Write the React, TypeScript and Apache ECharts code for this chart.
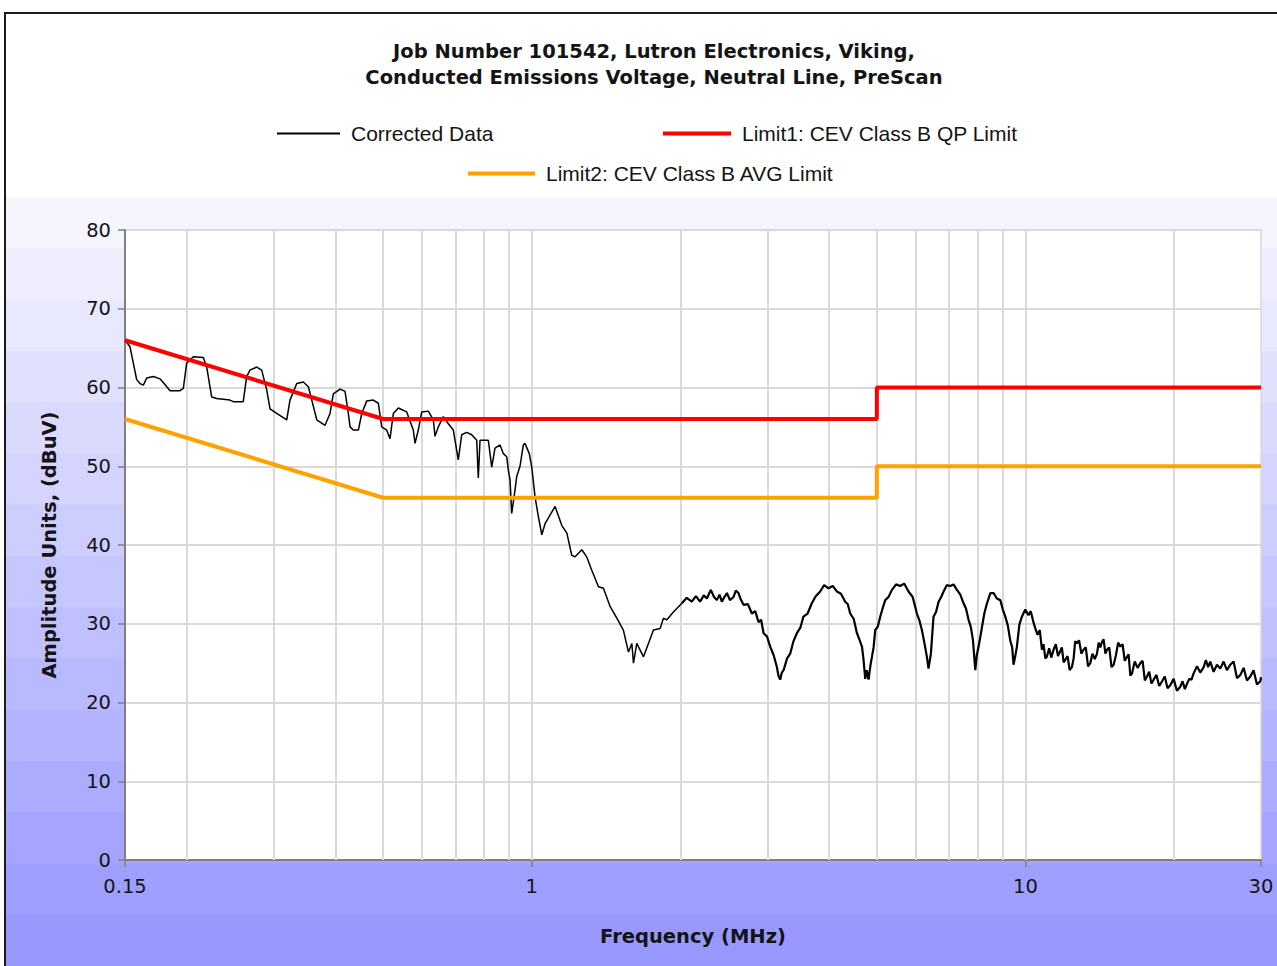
import React, { useEffect, useRef } from "react";
import * as echarts from "echarts";

// ---- Text ----
const titleLines = [
  "Job Number 101542, Lutron Electronics, Viking,",
  "Conducted Emissions Voltage, Neutral Line, PreScan",
];
const xAxisName = "Frequency (MHz)";
const yAxisName = "Amplitude Units, (dBuV)";
const seriesNames = [
  "Corrected Data",
  "Limit1: CEV Class B QP Limit",
  "Limit2: CEV Class B AVG Limit",
];

// ---- Axes ----
const freqMin = 0.15;
const freqMax = 30;
const levelMin = 0;
const levelMax = 80;
const levelStep = 10;
// vertical grid lines of the log frequency axis
const gridFrequencies = [0.2, 0.3, 0.4, 0.5, 0.6, 0.7, 0.8, 0.9, 1, 2, 3, 4, 5, 6, 7, 8, 9, 10, 20];

// ---- Limits [MHz, dBuV] ----
const qpLimit: [number, number][] = [[0.15, 66], [0.5, 56], [5, 56], [5, 60], [30, 60]];
const avgLimit: [number, number][] = [[0.15, 56], [0.5, 46], [5, 46], [5, 50], [30, 50]];

// ---- Corrected scan data [MHz, dBuV] ----
const scanLow: [number, number][] = [
  [0.150, 66.0], [0.1535, 65.2], [0.1584, 61.0], [0.1609, 60.5], [0.1634, 60.3], [0.1660, 61.2],
  [0.1712, 61.4], [0.1766, 61.1], [0.1823, 60.1], [0.1851, 59.6], [0.1939, 59.6], [0.1969, 59.9],
  [0.2000, 63.1], [0.2063, 63.9], [0.2161, 63.8], [0.2196, 62.6], [0.2247, 58.8], [0.2300, 58.6],
  [0.2447, 58.4], [0.2486, 58.2], [0.2604, 58.2], [0.2646, 61.4], [0.2687, 62.2], [0.2773, 62.6],
  [0.2838, 62.2], [0.2905, 59.7], [0.2950, 57.3], [0.3044, 56.7], [0.3189, 55.9], [0.3238, 58.4],
  [0.3342, 60.5], [0.3446, 60.7], [0.3528, 60.1], [0.3611, 57.6], [0.3669, 55.9], [0.3813, 55.2],
  [0.3903, 56.7], [0.3963, 59.2], [0.4090, 59.8], [0.4186, 59.5], [0.4251, 56.7], [0.4285, 55.0],
  [0.4351, 54.6], [0.4455, 54.6], [0.4525, 56.7], [0.4632, 58.3], [0.4775, 58.4], [0.4889, 58.0],
  [0.4967, 55.0], [0.5084, 54.6], [0.5163, 53.5], [0.5243, 56.7], [0.5367, 57.4], [0.5581, 56.9],
  [0.5755, 54.6], [0.5801, 52.9], [0.5891, 54.6], [0.5986, 56.9], [0.6172, 57.0], [0.6319, 55.9],
  [0.6368, 53.8], [0.6467, 55.0], [0.6619, 56.3], [0.6776, 55.4], [0.6936, 54.6], [0.7099, 50.8],
  [0.7213, 54.0], [0.7383, 54.3], [0.7557, 54.0], [0.7736, 53.3], [0.7793, 48.5], [0.7856, 53.3],
  [0.8166, 53.3], [0.8297, 49.9], [0.8424, 52.3], [0.8625, 52.7], [0.8759, 51.6], [0.8899, 51.2],
  [0.8965, 49.5], [0.9035, 48.3], [0.9107, 44.0], [0.9249, 47.0], [0.9322, 48.7], [0.9467, 50.0],
  [0.9614, 52.7], [0.9689, 52.9], [0.9886, 51.6], [1.000, 49.9], [1.0155, 46.1], [1.0313, 43.6],
  [1.048, 41.3], [1.064, 42.7], [1.115, 44.9], [1.150, 42.5], [1.178, 41.5], [1.205, 38.7],
  [1.224, 38.5], [1.263, 39.4], [1.292, 38.5], [1.323, 36.8], [1.365, 34.7], [1.397, 34.5],
  [1.441, 32.2], [1.487, 30.7], [1.533, 29.2], [1.570, 26.4], [1.595, 27.5], [1.607, 25.0],
  [1.632, 27.5], [1.684, 25.8], [1.764, 29.2], [1.820, 29.4], [1.848, 30.7], [1.878, 30.5],
  [1.936, 31.5], [2.014, 32.6],
];

const scanMid: [number, number][] = [
  [2.014, 32.6], [2.06, 33.3], [2.110, 32.8], [2.15, 33.5], [2.193, 32.8], [2.23, 33.6],
  [2.263, 33.2], [2.305, 34.3], [2.34, 33.4], [2.371, 33.0], [2.40, 33.7], [2.427, 32.8],
  [2.456, 33.4], [2.485, 33.9], [2.52, 33.0], [2.563, 33.4], [2.59, 34.2], [2.623, 33.9],
  [2.65, 33.1], [2.685, 32.4], [2.74, 32.5], [2.792, 31.3], [2.836, 31.6], [2.880, 30.2],
  [2.915, 30.5], [2.948, 28.8], [2.995, 28.4], [3.041, 27.1], [3.09, 26.0], [3.137, 24.5],
  [3.16, 23.4], [3.186, 22.9], [3.21, 23.8], [3.236, 24.1], [3.29, 25.6], [3.338, 26.2],
  [3.39, 27.8], [3.444, 28.8], [3.50, 29.5], [3.550, 30.9], [3.62, 31.3], [3.692, 32.6],
  [3.76, 33.5], [3.839, 34.1], [3.91, 34.9], [3.991, 34.5], [4.07, 34.8], [4.149, 34.1],
  [4.23, 33.8], [4.314, 32.8], [4.365, 32.5], [4.416, 31.3], [4.49, 30.6], [4.557, 28.8],
  [4.61, 28.0], [4.665, 27.1], [4.700, 25.4], [4.737, 23.0], [4.77, 24.1], [4.811, 22.9],
  [4.85, 24.6], [4.887, 25.8], [4.925, 27.0], [4.963, 29.2], [5.02, 29.6], [5.080, 30.9],
  [5.14, 32.0], [5.199, 33.0], [5.28, 33.4], [5.365, 34.3], [5.47, 35.0], [5.576, 34.8],
  [5.68, 35.1], [5.796, 34.1], [5.91, 33.4], [6.027, 31.3], [6.10, 30.4], [6.169, 29.2],
  [6.24, 27.6], [6.315, 25.8], [6.363, 24.3], [6.434, 26.2], [6.513, 30.9], [6.59, 31.5],
  [6.668, 32.8], [6.75, 33.4], [6.826, 34.1], [6.93, 34.9], [7.042, 34.8], [7.15, 35.0],
  [7.265, 34.3], [7.38, 33.7], [7.493, 32.6], [7.58, 31.9], [7.670, 30.5], [7.75, 29.6],
  [7.829, 27.9], [7.914, 24.1], [7.97, 26.0], [8.037, 27.1], [8.10, 28.3], [8.166, 29.6],
  [8.26, 31.4], [8.359, 32.6], [8.49, 33.9], [8.619, 33.9], [8.75, 33.2], [8.893, 33.0],
  [9.00, 31.8], [9.103, 30.9], [9.21, 29.8], [9.314, 27.9], [9.40, 27.0], [9.459, 24.8],
  [9.53, 25.8], [9.610, 27.1], [9.72, 29.9], [9.836, 30.9], [9.99, 31.8],
];

const scanHigh: [number, number][] = [
  [10.14, 31.1], [10.25, 31.6], [10.36, 30.4], [10.47, 29.4], [10.58, 28.6], [10.69, 29.2],
  [10.80, 26.7], [10.88, 27.4], [10.97, 25.6], [11.05, 25.8], [11.17, 26.9], [11.28, 25.7],
  [11.40, 26.7], [11.52, 27.4], [11.64, 25.9], [11.76, 26.5], [11.85, 27.0], [11.95, 25.1],
  [12.04, 25.4], [12.17, 25.9], [12.29, 24.1], [12.42, 24.5], [12.52, 25.6], [12.61, 27.8],
  [12.71, 27.5], [12.84, 27.9], [12.98, 26.2], [13.11, 26.7], [13.25, 27.0], [13.39, 24.6],
  [13.53, 25.0], [13.67, 26.2], [13.82, 25.5], [13.96, 26.2], [14.07, 27.6], [14.18, 27.0],
  [14.29, 27.7], [14.40, 28.0], [14.52, 26.2], [14.63, 26.7], [14.78, 27.0], [14.94, 24.5],
  [15.09, 24.8], [15.25, 26.0], [15.41, 27.6], [15.57, 27.1], [15.73, 27.4], [15.89, 25.3],
  [16.06, 25.8], [16.18, 26.1], [16.31, 23.4], [16.44, 23.7], [16.65, 25.2], [16.87, 24.4],
  [17.09, 25.0], [17.27, 25.3], [17.45, 22.8], [17.63, 23.3], [17.81, 23.9], [18.00, 22.4],
  [18.18, 22.9], [18.42, 23.5], [18.66, 22.1], [18.91, 22.7], [19.15, 23.3], [19.40, 21.8],
  [19.65, 22.2], [19.96, 23.0], [20.27, 21.5], [20.59, 22.0], [20.81, 22.7], [21.03, 21.7],
  [21.25, 22.4], [21.47, 23.0], [21.69, 22.9], [21.91, 23.7], [22.26, 24.6], [22.60, 23.8],
  [22.96, 24.5], [23.20, 25.4], [23.44, 24.5], [23.68, 25.2], [24.05, 23.9], [24.43, 24.8],
  [24.81, 24.3], [25.20, 25.2], [25.59, 24.1], [25.99, 24.8], [26.40, 25.2], [26.82, 23.1],
  [27.24, 23.5], [27.67, 24.4], [28.10, 22.8], [28.54, 23.3], [28.98, 24.1], [29.44, 22.3],
  [29.91, 22.7], [30.00, 23.2],
];

// the low band is drawn finer than the busier mid/high bands
const correctedLow = scanLow;
const correctedHigh = [...scanMid, ...scanHigh];

// ---- Colours ----
const traceColor = "#000000";
const qpColor = "#ff0000";
const avgColor = "#ffa200";
const gridLineColor = "#d9d9d9";
const axisLineColor = "#7f7f7f";
const textColor = "#141414";

const W = 1277;
const H = 966;

// banded lavender backdrop below the header
function backdropBands() {
  const top = 197;
  const n = 15;
  const step = (H - top) / n;
  const from = [245, 245, 254];
  const to = [152, 152, 255];
  const out: any[] = [];
  for (let i = 0; i < n; i++) {
    const t = i / (n - 1);
    const c = from.map((v, k) => Math.round(v + (to[k] - v) * t));
    out.push({
      type: "rect",
      z: -20,
      silent: true,
      shape: { x: 6, y: top + i * step, width: W, height: step + 1 },
      style: { fill: `rgb(${c[0]},${c[1]},${c[2]})` },
    });
  }
  return out;
}

export default function App() {
  const ref = useRef<HTMLDivElement>(null);

  useEffect(() => {
    if (!ref.current) return;
    const chart = echarts.init(ref.current, undefined, { renderer: "svg" });

    const legendText = {
      fontFamily: "Liberation Sans, Arial, sans-serif",
      fontSize: 21,
      color: textColor,
      padding: [0, 0, 0, 6],
    };
    const boldName = {
      fontFamily: "DejaVu Sans, sans-serif",
      fontWeight: "bold",
      fontSize: 19.5,
      color: textColor,
    };
    const tickText = {
      fontFamily: "DejaVu Sans, sans-serif",
      fontSize: 19.5,
      color: textColor,
    };

    chart.setOption({
      animation: false,
      backgroundColor: "#ffffff",
      title: {
        text: titleLines.join("\n"),
        left: 649,
        top: 33,
        textAlign: "center",
        textStyle: {
          fontFamily: "DejaVu Sans, sans-serif",
          fontWeight: "bold",
          fontSize: 19.5,
          lineHeight: 26,
          color: textColor,
        },
      },
      graphic: [
        ...backdropBands(),
        {
          type: "rect",
          z: -10,
          silent: true,
          shape: { x: 5, y: 13, width: W + 20, height: H + 20 },
          style: { fill: "none", stroke: "#1a1a1a", lineWidth: 2 },
        },
      ],
      legend: [
        {
          data: [{ name: seriesNames[0], icon: "rect" }],
          left: 277,
          top: 123,
          padding: 0,
          itemWidth: 63,
          itemHeight: 2,
          textStyle: legendText,
        },
        {
          data: [{ name: seriesNames[1], icon: "rect" }],
          left: 663,
          top: 123,
          padding: 0,
          itemWidth: 68,
          itemHeight: 4,
          textStyle: legendText,
        },
        {
          data: [{ name: seriesNames[2], icon: "rect" }],
          left: 468,
          top: 163,
          padding: 0,
          itemWidth: 67,
          itemHeight: 4,
          textStyle: legendText,
        },
      ],
      grid: {
        left: 125,
        right: W - 1261,
        top: 230,
        bottom: H - 860,
        show: true,
        backgroundColor: "#ffffff",
        borderColor: gridLineColor,
        borderWidth: 1.5,
      },
      xAxis: {
        type: "log",
        logBase: 10,
        min: freqMin,
        max: freqMax,
        name: xAxisName,
        nameLocation: "middle",
        nameGap: 66,
        nameTextStyle: boldName,
        axisLine: { show: true, onZero: false, lineStyle: { color: axisLineColor, width: 2 } },
        axisTick: { show: true, length: 7, lineStyle: { color: axisLineColor, width: 1.5 } },
        axisLabel: { margin: 16, showMinLabel: true, showMaxLabel: true, ...tickText },
        splitLine: { show: false },
      },
      yAxis: {
        type: "value",
        min: levelMin,
        max: levelMax,
        interval: levelStep,
        name: yAxisName,
        nameLocation: "middle",
        nameGap: 66,
        nameTextStyle: boldName,
        axisLine: { show: true, lineStyle: { color: axisLineColor, width: 2 } },
        axisTick: { show: true, length: 7, lineStyle: { color: axisLineColor, width: 1.5 } },
        axisLabel: { margin: 14, ...tickText },
        splitLine: { show: true, lineStyle: { color: gridLineColor, width: 2 } },
      },
      series: [
        {
          name: "frequency grid",
          type: "line",
          data: [],
          silent: true,
          z: 1,
          markLine: {
            silent: true,
            z: 1,
            symbol: ["none", "none"],
            label: { show: false },
            lineStyle: { color: gridLineColor, width: 2, type: "solid" },
            emphasis: { disabled: true },
            data: gridFrequencies.map((f) => ({ xAxis: f })),
          },
        },
        {
          name: seriesNames[0],
          type: "line",
          data: correctedLow,
          showSymbol: false,
          symbol: "none",
          itemStyle: { color: traceColor },
          lineStyle: { color: traceColor, width: 1.5 },
          z: 3,
        },
        {
          name: seriesNames[0],
          type: "line",
          data: correctedHigh,
          showSymbol: false,
          symbol: "none",
          itemStyle: { color: traceColor },
          lineStyle: { color: traceColor, width: 2.2 },
          z: 3,
        },
        {
          name: seriesNames[1],
          type: "line",
          data: qpLimit,
          showSymbol: false,
          symbol: "none",
          itemStyle: { color: qpColor },
          lineStyle: { color: qpColor, width: 4 },
          z: 4,
        },
        {
          name: seriesNames[2],
          type: "line",
          data: avgLimit,
          showSymbol: false,
          symbol: "none",
          itemStyle: { color: avgColor },
          lineStyle: { color: avgColor, width: 4 },
          z: 4,
        },
      ],
    });

    return () => chart.dispose();
  }, []);

  return (
    <div
      ref={ref}
      style={{ position: "absolute", left: 0, top: 0, width: W, height: H }}
    />
  );
}
